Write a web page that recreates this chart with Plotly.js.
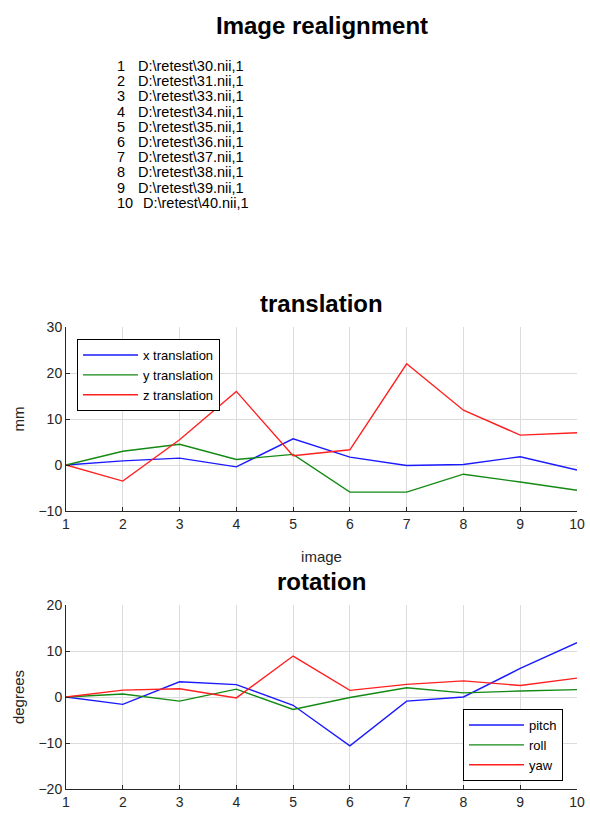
<!DOCTYPE html>
<html><head><meta charset="utf-8">
<script src="https://cdn.plot.ly/plotly-3.0.1.min.js"></script>
<style>html,body{margin:0;padding:0;background:#fff}#c{width:590px;height:819px}</style>
</head><body><div id="c"></div>
<script>
const images = [1,2,3,4,5,6,7,8,9,10];
const fileNames = ["D:\\retest\\30.nii,1","D:\\retest\\31.nii,1","D:\\retest\\33.nii,1","D:\\retest\\34.nii,1","D:\\retest\\35.nii,1","D:\\retest\\36.nii,1","D:\\retest\\37.nii,1","D:\\retest\\38.nii,1","D:\\retest\\39.nii,1","D:\\retest\\40.nii,1"];
const xTrans = [0,0.9,1.5,-0.4,5.7,1.7,-0.1,0.1,1.8,-1.1];
const yTrans = [0,3.0,4.5,1.2,2.3,-5.9,-5.9,-2.0,-3.7,-5.5];
const zTrans = [0,-3.5,5.5,16.0,2.0,3.3,22.0,11.9,6.5,7.0];
const pitch = [0,-1.6,3.3,2.7,-1.8,-10.6,-0.9,0,6.2,11.8];
const roll = [0,0.65,-0.9,1.7,-2.7,-0.1,2.0,0.9,1.3,1.6];
const yaw = [0,1.5,1.8,-0.2,8.9,1.45,2.75,3.5,2.5,4.1];

const FONT = "Liberation Sans, Arial, sans-serif";
const BLUE="#1a1aff", GREEN="#138a13", RED="#ff2020";
const W=590,H=819;
const px = x => x/W, py = y => 1 - y/H;

function tr(x,y,name,color,xa,ya,leg){
  return {x:x,y:y,name:name,type:'scatter',mode:'lines',line:{color:color,width:1.4},xaxis:xa,yaxis:ya,legend:leg};
}
const data = [
  tr(images,xTrans,'x translation',BLUE,'x','y','legend'),
  tr(images,yTrans,'y translation',GREEN,'x','y','legend'),
  tr(images,zTrans,'z translation',RED,'x','y','legend'),
  tr(images,pitch,'pitch',BLUE,'x2','y2','legend2'),
  tr(images,roll,'roll',GREEN,'x2','y2','legend2'),
  tr(images,yaw,'yaw',RED,'x2','y2','legend2')
];

const axBase = {showgrid:true,gridcolor:'#dcdcdc',gridwidth:1,zeroline:false,showline:true,linecolor:'#262626',linewidth:1,
  ticks:'inside',ticklen:4,tickcolor:'#262626',tickfont:{family:FONT,size:14,color:'#262626'},mirror:false};

const annotations = [];
annotations.push({text:'<b>Image realignment</b>',x:px(322),y:py(25),xref:'paper',yref:'paper',showarrow:false,font:{family:FONT,size:24,color:'#000'},xanchor:'center',yanchor:'middle'});
annotations.push({text:'<b>translation</b>',x:px(321),y:py(303),xref:'paper',yref:'paper',showarrow:false,font:{family:FONT,size:24,color:'#000'},xanchor:'center',yanchor:'middle'});
annotations.push({text:'<b>rotation</b>',x:px(321),y:py(581),xref:'paper',yref:'paper',showarrow:false,font:{family:FONT,size:24,color:'#000'},xanchor:'center',yanchor:'middle'});
for(let i=0;i<images.length;i++){
  const yy = 66 + i*15.2;
  annotations.push({text:String(images[i]),x:px(115),y:py(yy),xref:'paper',yref:'paper',showarrow:false,xanchor:'left',yanchor:'middle',font:{family:FONT,size:14.5,color:'#000'}});
  annotations.push({text:fileNames[i],x:px(images[i]>=10?141:136),y:py(yy),xref:'paper',yref:'paper',showarrow:false,xanchor:'left',yanchor:'middle',font:{family:FONT,size:14.5,color:'#000'}});
}

const layout = {
  width:W,height:H,margin:{l:0,r:0,t:0,b:0},paper_bgcolor:'#fff',plot_bgcolor:'#fff',showlegend:true,
  xaxis:Object.assign({},axBase,{domain:[px(66),px(577)],range:[1,10],dtick:1,anchor:'y',
    title:{text:'image',font:{family:FONT,size:15,color:'#262626'},standoff:20}}),
  yaxis:Object.assign({},axBase,{domain:[py(511),py(327)],range:[-10,30],dtick:10,anchor:'x',
    title:{text:'mm',font:{family:FONT,size:15,color:'#262626'},standoff:10}}),
  xaxis2:Object.assign({},axBase,{domain:[px(66),px(577)],range:[1,10],dtick:1,anchor:'y2'}),
  yaxis2:Object.assign({},axBase,{domain:[py(789),py(605)],range:[-20,20],dtick:10,anchor:'x2',
    title:{text:'degrees',font:{family:FONT,size:15,color:'#262626'},standoff:10}}),
  legend:{x:px(77),y:py(339),xanchor:'left',yanchor:'top',bgcolor:'#fff',bordercolor:'#000',borderwidth:1,
    font:{family:FONT,size:13,color:'#000'},tracegroupgap:0,itemwidth:55},
  legend2:{x:px(463),y:py(709),xanchor:'left',yanchor:'top',bgcolor:'#fff',bordercolor:'#000',borderwidth:1,
    font:{family:FONT,size:13,color:'#000'},tracegroupgap:0,itemwidth:55},
  annotations:annotations
};
Plotly.newPlot('c',data,layout,{displayModeBar:false,staticPlot:true});
</script></body></html>
